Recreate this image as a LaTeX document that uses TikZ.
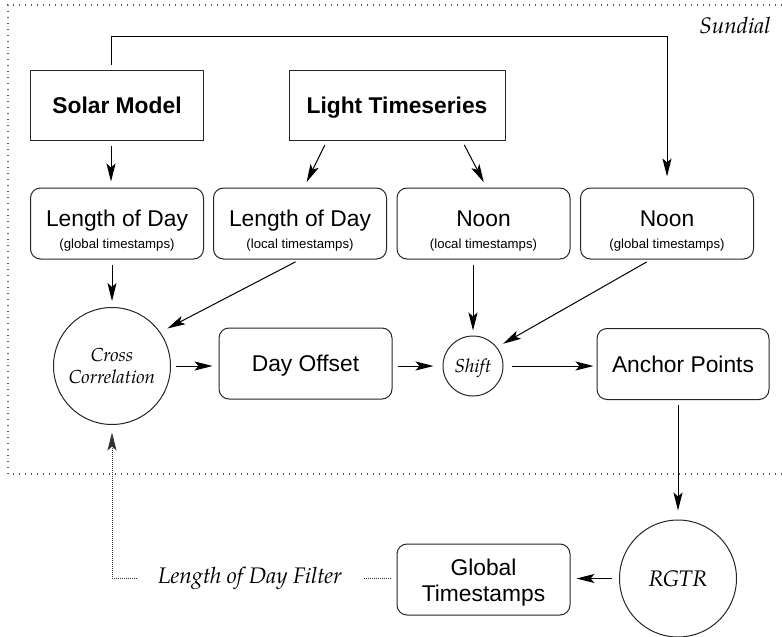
\documentclass[tikz,border=0pt]{standalone}
\usepackage{fontspec}
\setsansfont{Liberation Sans}
\newfontfamily\palf{TeX Gyre Pagella}
\usetikzlibrary{arrows.meta,calc}
\newcommand\mainf{\sffamily\fontsize{11.4}{11}\selectfont}
\newcommand\subf{\sffamily\fontsize{6.6}{11}\selectfont}
\newcommand\boldf{\sffamily\bfseries\fontsize{11.4}{13}\selectfont}
\newcommand\gtsf{\sffamily\fontsize{11.4}{13}\selectfont}
\newcommand\palbig{\palf\itshape\fontsize{11.25}{13}\selectfont}
\newcommand\palsmall{\palf\itshape\fontsize{9.4}{11.3}\selectfont}
\tikzset{
  box/.style={draw=black!85, line width=0.5pt, minimum width=86.5pt, minimum height=35pt,
    inner sep=0pt, font=\boldf, text height=8.2pt, text depth=0pt},
  rboxtwo/.style={draw=black!85, line width=0.5pt, rounded corners=5pt, minimum width=86.5pt,
    minimum height=35.5pt, inner sep=0pt, align=center, font=\mainf, text height=24.5pt, text depth=0pt},
  rboxone/.style={draw=black!85, line width=0.5pt, rounded corners=5pt, minimum width=86.5pt,
    minimum height=35.5pt, inner sep=0pt, font=\mainf, text height=8.2pt, text depth=0pt},
  rboxgts/.style={draw=black!85, line width=0.5pt, rounded corners=5pt, minimum width=86.5pt,
    minimum height=35.5pt, inner sep=0pt, align=center, font=\gtsf, text height=21.5pt, text depth=0pt},
  circ/.style={circle, draw=black!85, line width=0.5pt, inner sep=0pt, align=center, text depth=0pt},
  tip/.tip={Stealth[length=9pt,width=4.5pt,inset=2pt]},
  arr/.style={-tip, line width=0.5pt, shorten <=2.5pt, shorten >=3pt},
  framedot/.style={draw=black!65, line width=0.6pt, dash pattern=on 0.5pt off 2.5pt},
  fdot/.style={draw=black!80, line width=0.5pt, dash pattern=on 0.5pt off 0.5pt},
}
\begin{document}
\begin{tikzpicture}[x=0.5pt,y=-0.5pt]
\useasboundingbox (0,0) rectangle (782,637);
\draw[framedot] (782,5) -- (8,5) -- (8,474) -- (782,474);
\node[font=\palbig, anchor=base east, inner sep=0pt] (sundial) at (771,33) {Sundial};

\node[box] (solar) at (117,105) {Solar Model};
\node[box, minimum width=108pt] (lts) at (397,105) {Light Timeseries};

\node[rboxtwo] (lodg) at (117,223.5) {Length of Day\\{\subf (global timestamps)}};
\node[rboxtwo] (lodl) at (300,223.5) {Length of Day\\{\subf (local timestamps)}};
\node[rboxtwo] (noonl) at (483.5,223.5) {Noon\\{\subf (local timestamps)}};
\node[rboxtwo] (noong) at (667,223.5) {Noon\\{\subf (global timestamps)}};

\node[circ, minimum size=58.5pt, font=\palsmall] (cc) at (112,366) {Cross\\Correlation};
\node[rboxone] (dayoff) at (305.5,363.5) {Day Offset};
\node[circ, minimum size=30pt, font=\palsmall] (shift) at (473,366) {Shift};
\node[rboxone, minimum width=86pt] (anchor) at (683,364) {Anchor Points};

\node[circ, minimum size=58.5pt, font=\palbig] (rgtr) at (678,578.5) {RGTR};
\node[rboxgts] (gts) at (483.5,579.5) {Global\\Timestamps};
\node[font=\palbig, inner xsep=10.5pt, inner ysep=0pt] (filter) at (250,578) {Length of Day Filter};

\draw[arr, shorten >=5.5pt] ([xshift=-3pt]solar.north) -- ++(0,-33) -| (noong.north);
\draw[arr] ([xshift=-3pt]solar.south) -- ([xshift=-3pt]lodg.north);
\draw[arr] ([xshift=-35pt]lts.south) -- ([xshift=2pt]lodl.north);
\draw[arr] ([xshift=32.5pt]lts.south) -- ([xshift=1.5pt]noonl.north);
\draw[arr] (cc.north |- lodg.south) -- (cc.north);
\draw[arr, shorten >=4pt] (lodl.south) -- (cc.35);
\draw[arr] (cc.east) -- (cc.east -| dayoff.west);
\draw[arr, shorten >=4.5pt] (dayoff.east |- shift.west) -- (shift.west);
\draw[arr, shorten <=4pt, shorten >=1.5pt] (shift.east) -- (shift.east -| anchor.west);
\draw[arr, shorten >=2.5pt] (shift.north |- noonl.south) -- (shift.north);
\draw[arr, shorten >=3.5pt] ([xshift=-8pt]noong.south) -- (shift.38);
\draw[arr, shorten >=4.5pt] (rgtr.north |- anchor.south) -- (rgtr.north);
\draw[arr, shorten <=3.5pt] (rgtr.west) -- (rgtr.west -| gts.east);
\draw[fdot] ([xshift=-3pt]filter.east -| gts.west) -- (filter.east);
\draw[fdot, -tip, shorten >=3.75pt] (filter.west) -| (cc.south);
\end{tikzpicture}
\end{document}
